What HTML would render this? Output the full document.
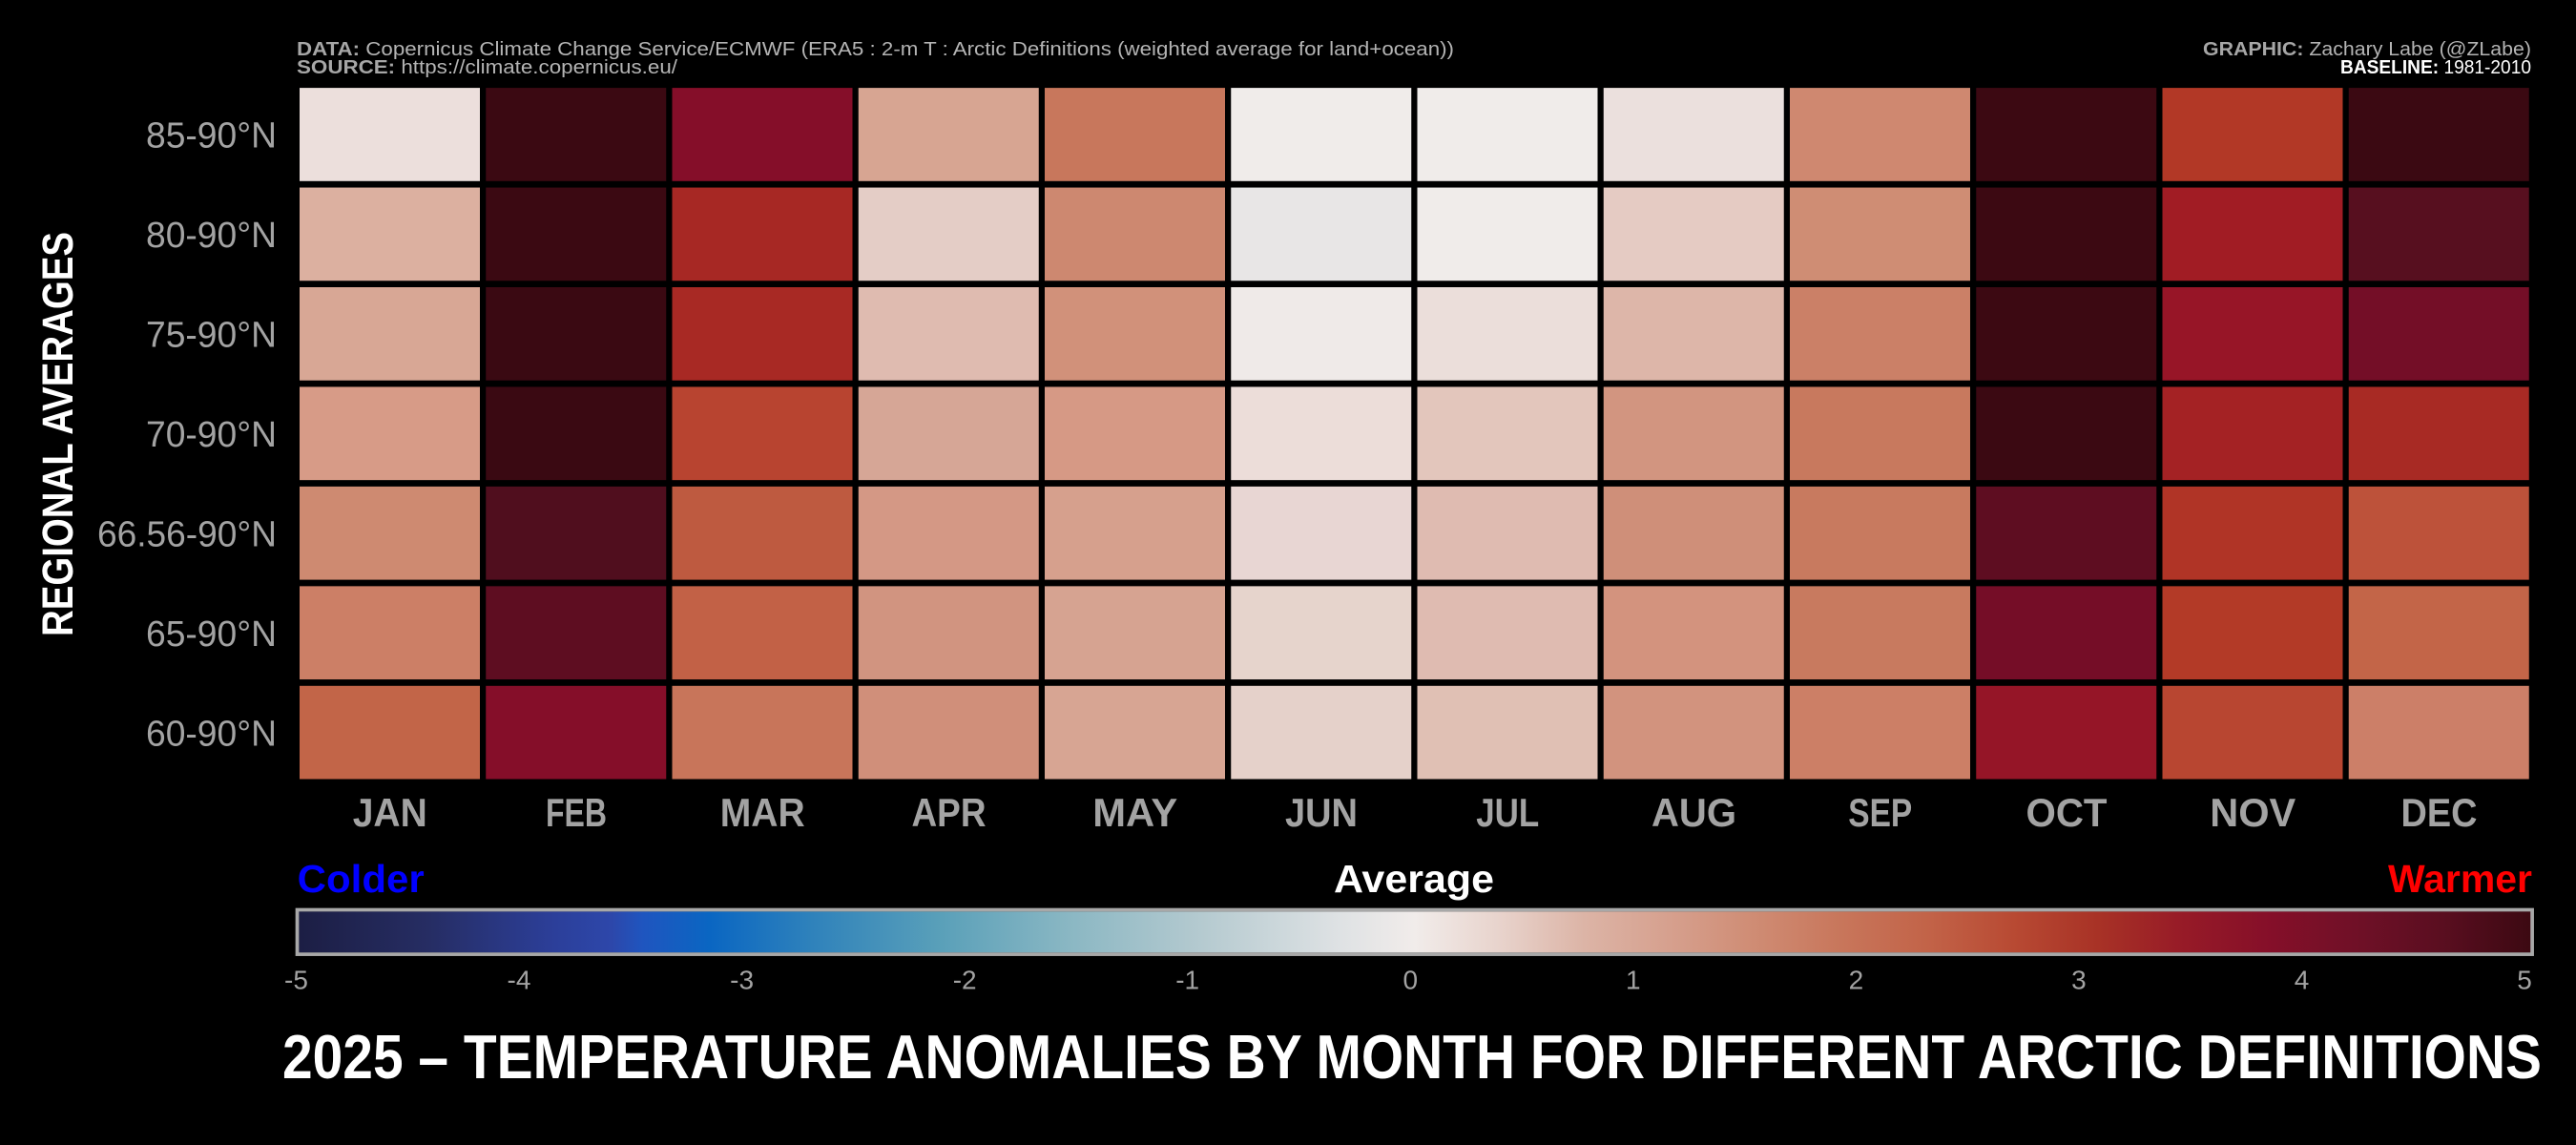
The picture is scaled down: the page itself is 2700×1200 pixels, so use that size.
<!DOCTYPE html>
<html>
<head>
<meta charset="utf-8">
<style>
html,body{margin:0;padding:0;background:#000;}
svg{display:block;}
text{font-family:"Liberation Sans","DejaVu Sans",sans-serif;}
</style>
</head>
<body>
<svg width="2700" height="1200" viewBox="0 0 2700 1200" xmlns="http://www.w3.org/2000/svg">
<rect x="0" y="0" width="2700" height="1200" fill="#000"/>
<defs>
<linearGradient id="bal" x1="0" y1="0" x2="1" y2="0">
<stop offset="0" stop-color="#1c1e44"/>
<stop offset="0.058" stop-color="#262d63"/>
<stop offset="0.115" stop-color="#2c3f9a"/>
<stop offset="0.14" stop-color="#2d47aa"/>
<stop offset="0.154" stop-color="#1f55bf"/>
<stop offset="0.184" stop-color="#0a66c2"/>
<stop offset="0.23" stop-color="#2f82bb"/>
<stop offset="0.288" stop-color="#5aa0b9"/>
<stop offset="0.345" stop-color="#8ab7c3"/>
<stop offset="0.402" stop-color="#b3c9cf"/>
<stop offset="0.467" stop-color="#dfe2e4"/>
<stop offset="0.5" stop-color="#f1ecea"/>
<stop offset="0.538" stop-color="#e8d3cc"/>
<stop offset="0.576" stop-color="#dcb4a6"/>
<stop offset="0.614" stop-color="#d6a08e"/>
<stop offset="0.652" stop-color="#cf8c74"/>
<stop offset="0.691" stop-color="#c8765b"/>
<stop offset="0.73" stop-color="#c26348"/>
<stop offset="0.768" stop-color="#b84a33"/>
<stop offset="0.806" stop-color="#a83226"/>
<stop offset="0.845" stop-color="#961a27"/>
<stop offset="0.883" stop-color="#850f29"/>
<stop offset="0.921" stop-color="#701027"/>
<stop offset="0.96" stop-color="#5a0e20"/>
<stop offset="1" stop-color="#3c0912"/>
</linearGradient>
</defs>

<!-- Header -->
<text x="311" y="58" font-size="20" fill="#b4b4b4" textLength="1213" lengthAdjust="spacingAndGlyphs"><tspan font-weight="bold" fill="#a6a6a6">DATA:</tspan> Copernicus Climate Change Service/ECMWF (ERA5 : 2-m T : Arctic Definitions (weighted average for land+ocean))</text>
<text x="311" y="77" font-size="20" fill="#b4b4b4" textLength="399" lengthAdjust="spacingAndGlyphs"><tspan font-weight="bold" fill="#a6a6a6">SOURCE:</tspan> https://climate.copernicus.eu/</text>
<text x="2309" y="58" font-size="20" fill="#b4b4b4" textLength="344" lengthAdjust="spacingAndGlyphs"><tspan font-weight="bold" fill="#a6a6a6">GRAPHIC:</tspan> Zachary Labe (@ZLabe)</text>
<text x="2453" y="77" font-size="20" fill="#ffffff" textLength="200" lengthAdjust="spacingAndGlyphs"><tspan font-weight="bold">BASELINE:</tspan> 1981-2010</text>

<!-- Y axis title -->
<text transform="translate(76,455) rotate(-90)" x="-212" y="0" font-size="45" font-weight="bold" fill="#ffffff" textLength="424" lengthAdjust="spacingAndGlyphs">REGIONAL AVERAGES</text>

<!-- Row labels -->
<g font-size="38" fill="#a3a3a3">
<text x="153" y="154.6" textLength="137" lengthAdjust="spacingAndGlyphs">85-90°N</text>
<text x="153" y="259.1" textLength="137" lengthAdjust="spacingAndGlyphs">80-90°N</text>
<text x="153" y="363.5" textLength="137" lengthAdjust="spacingAndGlyphs">75-90°N</text>
<text x="153" y="468" textLength="137" lengthAdjust="spacingAndGlyphs">70-90°N</text>
<text x="102" y="572.4" textLength="188" lengthAdjust="spacingAndGlyphs">66.56-90°N</text>
<text x="153" y="676.9" textLength="137" lengthAdjust="spacingAndGlyphs">65-90°N</text>
<text x="153" y="781.3" textLength="137" lengthAdjust="spacingAndGlyphs">60-90°N</text>
</g>

<!-- Grid cells -->
<g>
<!-- Row 1: 85-90 -->
<rect x="314" y="92.1" width="189" height="97.7" fill="#ecdfdc"/>
<rect x="509.25" y="92.1" width="189" height="97.7" fill="#3b0912"/>
<rect x="704.5" y="92.1" width="189" height="97.7" fill="#850e29"/>
<rect x="899.75" y="92.1" width="189" height="97.7" fill="#d7a592"/>
<rect x="1095" y="92.1" width="189" height="97.7" fill="#c8775c"/>
<rect x="1290.25" y="92.1" width="189" height="97.7" fill="#f0ecea"/>
<rect x="1485.5" y="92.1" width="189" height="97.7" fill="#f0ecea"/>
<rect x="1680.75" y="92.1" width="189" height="97.7" fill="#ebe0dd"/>
<rect x="1876" y="92.1" width="189" height="97.7" fill="#cf8870"/>
<rect x="2071.25" y="92.1" width="189" height="97.7" fill="#3c0912"/>
<rect x="2266.5" y="92.1" width="189" height="97.7" fill="#b23826"/>
<rect x="2461.75" y="92.1" width="189" height="97.7" fill="#3b0912"/>
<!-- Row 2: 80-90 -->
<rect x="314" y="196.55" width="189" height="97.7" fill="#dcb0a0"/>
<rect x="509.25" y="196.55" width="189" height="97.7" fill="#3b0912"/>
<rect x="704.5" y="196.55" width="189" height="97.7" fill="#a72824"/>
<rect x="899.75" y="196.55" width="189" height="97.7" fill="#e4cdc6"/>
<rect x="1095" y="196.55" width="189" height="97.7" fill="#cd8870"/>
<rect x="1290.25" y="196.55" width="189" height="97.7" fill="#e8e6e6"/>
<rect x="1485.5" y="196.55" width="189" height="97.7" fill="#f0ecea"/>
<rect x="1680.75" y="196.55" width="189" height="97.7" fill="#e5cbc3"/>
<rect x="1876" y="196.55" width="189" height="97.7" fill="#cf8d74"/>
<rect x="2071.25" y="196.55" width="189" height="97.7" fill="#3c0912"/>
<rect x="2266.5" y="196.55" width="189" height="97.7" fill="#a11c24"/>
<rect x="2461.75" y="196.55" width="189" height="97.7" fill="#570f1f"/>
<!-- Row 3: 75-90 -->
<rect x="314" y="301" width="189" height="97.7" fill="#d8a795"/>
<rect x="509.25" y="301" width="189" height="97.7" fill="#3a0912"/>
<rect x="704.5" y="301" width="189" height="97.7" fill="#a82924"/>
<rect x="899.75" y="301" width="189" height="97.7" fill="#dfbbb0"/>
<rect x="1095" y="301" width="189" height="97.7" fill="#d1917a"/>
<rect x="1290.25" y="301" width="189" height="97.7" fill="#efeae8"/>
<rect x="1485.5" y="301" width="189" height="97.7" fill="#ebdeda"/>
<rect x="1680.75" y="301" width="189" height="97.7" fill="#ddb6a9"/>
<rect x="1876" y="301" width="189" height="97.7" fill="#cb8067"/>
<rect x="2071.25" y="301" width="189" height="97.7" fill="#3c0912"/>
<rect x="2266.5" y="301" width="189" height="97.7" fill="#971527"/>
<rect x="2461.75" y="301" width="189" height="97.7" fill="#740e27"/>
<!-- Row 4: 70-90 -->
<rect x="314" y="405.45" width="189" height="97.7" fill="#d79b87"/>
<rect x="509.25" y="405.45" width="189" height="97.7" fill="#3a0912"/>
<rect x="704.5" y="405.45" width="189" height="97.7" fill="#b84430"/>
<rect x="899.75" y="405.45" width="189" height="97.7" fill="#d6a696"/>
<rect x="1095" y="405.45" width="189" height="97.7" fill="#d69985"/>
<rect x="1290.25" y="405.45" width="189" height="97.7" fill="#ecddd9"/>
<rect x="1485.5" y="405.45" width="189" height="97.7" fill="#e3c6bc"/>
<rect x="1680.75" y="405.45" width="189" height="97.7" fill="#d29580"/>
<rect x="1876" y="405.45" width="189" height="97.7" fill="#c8795e"/>
<rect x="2071.25" y="405.45" width="189" height="97.7" fill="#3b0912"/>
<rect x="2266.5" y="405.45" width="189" height="97.7" fill="#a42224"/>
<rect x="2461.75" y="405.45" width="189" height="97.7" fill="#a82a24"/>
<!-- Row 5: 66.56-90 -->
<rect x="314" y="509.9" width="189" height="97.7" fill="#ce8a71"/>
<rect x="509.25" y="509.9" width="189" height="97.7" fill="#500e1e"/>
<rect x="704.5" y="509.9" width="189" height="97.7" fill="#be5a40"/>
<rect x="899.75" y="509.9" width="189" height="97.7" fill="#d49885"/>
<rect x="1095" y="509.9" width="189" height="97.7" fill="#d6a08d"/>
<rect x="1290.25" y="509.9" width="189" height="97.7" fill="#e8d6d3"/>
<rect x="1485.5" y="509.9" width="189" height="97.7" fill="#dfbbb1"/>
<rect x="1680.75" y="509.9" width="189" height="97.7" fill="#cf8f79"/>
<rect x="1876" y="509.9" width="189" height="97.7" fill="#c87a5f"/>
<rect x="2071.25" y="509.9" width="189" height="97.7" fill="#5e0d21"/>
<rect x="2266.5" y="509.9" width="189" height="97.7" fill="#b03426"/>
<rect x="2461.75" y="509.9" width="189" height="97.7" fill="#bd523a"/>
<!-- Row 6: 65-90 -->
<rect x="314" y="614.35" width="189" height="97.7" fill="#cc7f66"/>
<rect x="509.25" y="614.35" width="189" height="97.7" fill="#5e0d21"/>
<rect x="704.5" y="614.35" width="189" height="97.7" fill="#c26146"/>
<rect x="899.75" y="614.35" width="189" height="97.7" fill="#d19480"/>
<rect x="1095" y="614.35" width="189" height="97.7" fill="#d6a391"/>
<rect x="1290.25" y="614.35" width="189" height="97.7" fill="#e6d4cc"/>
<rect x="1485.5" y="614.35" width="189" height="97.7" fill="#dfbbb1"/>
<rect x="1680.75" y="614.35" width="189" height="97.7" fill="#d3937e"/>
<rect x="1876" y="614.35" width="189" height="97.7" fill="#c87a5f"/>
<rect x="2071.25" y="614.35" width="189" height="97.7" fill="#750d27"/>
<rect x="2266.5" y="614.35" width="189" height="97.7" fill="#b33a27"/>
<rect x="2461.75" y="614.35" width="189" height="97.7" fill="#c36548"/>
<!-- Row 7: 60-90 -->
<rect x="314" y="718.8" width="189" height="97.7" fill="#c26548"/>
<rect x="509.25" y="718.8" width="189" height="97.7" fill="#850e29"/>
<rect x="704.5" y="718.8" width="189" height="97.7" fill="#c8755a"/>
<rect x="899.75" y="718.8" width="189" height="97.7" fill="#d08f7a"/>
<rect x="1095" y="718.8" width="189" height="97.7" fill="#d7a593"/>
<rect x="1290.25" y="718.8" width="189" height="97.7" fill="#e5d1ca"/>
<rect x="1485.5" y="718.8" width="189" height="97.7" fill="#e0c0b4"/>
<rect x="1680.75" y="718.8" width="189" height="97.7" fill="#d2937e"/>
<rect x="1876" y="718.8" width="189" height="97.7" fill="#cc7f66"/>
<rect x="2071.25" y="718.8" width="189" height="97.7" fill="#951527"/>
<rect x="2266.5" y="718.8" width="189" height="97.7" fill="#b84631"/>
<rect x="2461.75" y="718.8" width="189" height="97.7" fill="#cc7f68"/>
</g>

<!-- Month labels -->
<g font-size="42" font-weight="bold" fill="#a3a3a3">
<text x="369.75" y="866" textLength="78" lengthAdjust="spacingAndGlyphs">JAN</text>
<text x="572" y="866" textLength="64" lengthAdjust="spacingAndGlyphs">FEB</text>
<text x="754.75" y="866" textLength="89" lengthAdjust="spacingAndGlyphs">MAR</text>
<text x="955.5" y="866" textLength="78" lengthAdjust="spacingAndGlyphs">APR</text>
<text x="1145.25" y="866" textLength="89" lengthAdjust="spacingAndGlyphs">MAY</text>
<text x="1347" y="866" textLength="76" lengthAdjust="spacingAndGlyphs">JUN</text>
<text x="1547.25" y="866" textLength="66" lengthAdjust="spacingAndGlyphs">JUL</text>
<text x="1731" y="866" textLength="89" lengthAdjust="spacingAndGlyphs">AUG</text>
<text x="1937.25" y="866" textLength="67" lengthAdjust="spacingAndGlyphs">SEP</text>
<text x="2123.5" y="866" textLength="85" lengthAdjust="spacingAndGlyphs">OCT</text>
<text x="2316.25" y="866" textLength="90" lengthAdjust="spacingAndGlyphs">NOV</text>
<text x="2516.5" y="866" textLength="80" lengthAdjust="spacingAndGlyphs">DEC</text>
</g>

<!-- Colorbar labels -->
<text x="311.7" y="935" font-size="41" font-weight="bold" fill="#0000ff" textLength="133" lengthAdjust="spacingAndGlyphs">Colder</text>
<text x="1398" y="935" font-size="41" font-weight="bold" fill="#ffffff" textLength="168" lengthAdjust="spacingAndGlyphs">Average</text>
<text x="2503" y="935" font-size="41" font-weight="bold" fill="#ff0000" textLength="151" lengthAdjust="spacingAndGlyphs">Warmer</text>

<!-- Colorbar -->
<rect x="313.3" y="955.3" width="2339.4" height="43" fill="url(#bal)"/>
<rect x="311.5" y="953.5" width="2342.6" height="46.6" fill="none" stroke="#a8a8a8" stroke-width="3.7"/>

<!-- Colorbar ticks -->
<g font-size="28" fill="#a3a3a3" text-anchor="middle">
<text x="310.5" y="1036.5">-5</text>
<text x="544" y="1036.5">-4</text>
<text x="777.6" y="1036.5">-3</text>
<text x="1011.2" y="1036.5">-2</text>
<text x="1244.7" y="1036.5">-1</text>
<text x="1478.3" y="1036.5">0</text>
<text x="1711.8" y="1036.5">1</text>
<text x="1945.4" y="1036.5">2</text>
<text x="2178.9" y="1036.5">3</text>
<text x="2412.5" y="1036.5">4</text>
<text x="2646" y="1036.5">5</text>
</g>

<!-- Title -->
<text x="296" y="1130" font-size="65" font-weight="bold" fill="#ffffff" textLength="2368" lengthAdjust="spacingAndGlyphs">2025 – TEMPERATURE ANOMALIES BY MONTH FOR DIFFERENT ARCTIC DEFINITIONS</text>
</svg>
</body>
</html>
